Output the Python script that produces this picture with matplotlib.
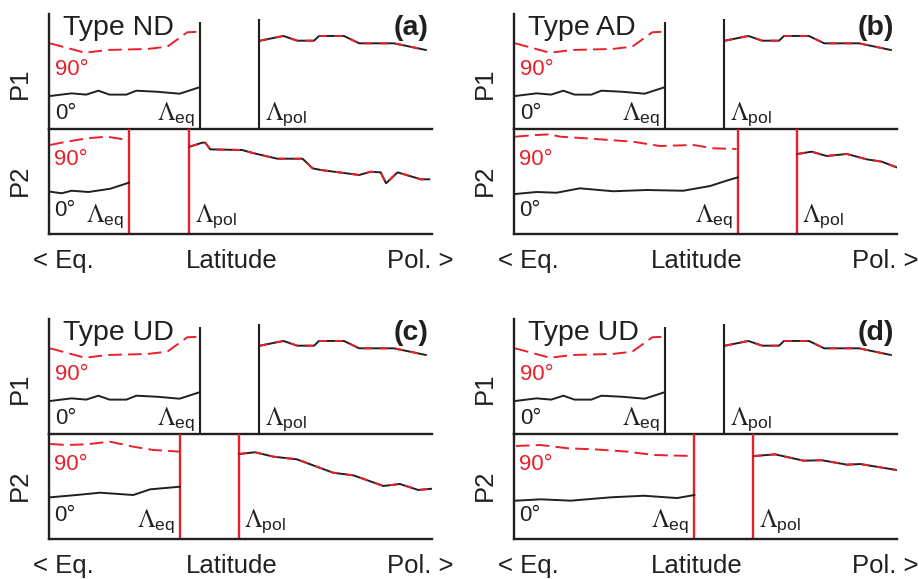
import matplotlib
matplotlib.use("Agg")
import matplotlib.pyplot as plt

plt.rcParams['font.family'] = ['Liberation Sans', 'DejaVu Sans']
plt.rcParams['mathtext.fontset'] = 'stix'

RED = '#e8202a'
BLK = '#231f20'

# ---------------- data (x: 0 = equator side, 100 = pole side; y: 0..100) ----------------
panel_letters = ['(a)', '(b)', '(c)', '(d)']
panel_types = ['Type ND', 'Type AD', 'Type UD', 'Type UD']

# P1 (identical in all panels)
p1_lam_eq = 39.5
p1_lam_pol = 54.8
p1_eq90_x = [0.3, 9.4, 15.2, 25.7, 30.9, 36.1, 39.3]
p1_eq90_y = [74.5, 66.3, 68.7, 69.6, 71.6, 84.1, 84.6]
p1_eq0_x = [0.3, 5.9, 9.7, 12.9, 15.8, 20.2, 22.8, 28.2, 34.1, 39.3]
p1_eq0_y = [28.7, 31.0, 29.9, 33.3, 29.9, 29.9, 33.3, 32.4, 30.7, 36.3]
p1_pol_x = [55.1, 61.2, 64.8, 69.2, 70.5, 77.0, 81.0, 90.1, 98.4]
p1_pol_y = [76.8, 80.9, 76.8, 76.8, 80.9, 80.9, 74.5, 74.5, 68.7]

# P2 per panel
p2_lam_eq = [20.9, 58.5, 34.2, 47.1]
p2_lam_pol = [36.6, 73.9, 49.6, 62.5]

p2_eq90_x = [
    [0.3, 4.6, 9.9, 15.1, 20.6],
    [0.3, 5.9, 9.4, 12.0, 18.9, 31.1, 38.1, 46.8, 52.0, 58.1],
    [0.3, 4.6, 9.8, 15.9, 22.0, 27.2, 34.0],
    [0.5, 7.0, 14.0, 20.9, 29.6, 36.5, 46.9],
]
p2_eq90_y = [
    [84.8, 87.9, 91.1, 92.7, 89.5],
    [92.7, 94.3, 94.9, 92.7, 91.1, 87.9, 83.8, 84.8, 81.6, 81.0],
    [90.5, 89.5, 90.2, 92.7, 87.9, 84.8, 83.2],
    [88.6, 89.5, 86.4, 85.4, 83.2, 80.0, 79.0],
]
p2_eq0_x = [
    [0.3, 3.3, 5.9, 10.3, 16.0, 20.9],
    [0.3, 5.9, 11.1, 17.2, 25.9, 34.6, 44.2, 51.2, 55.5, 58.5],
    [0.3, 7.2, 13.3, 22.0, 26.4, 34.2],
    [0.5, 7.0, 14.8, 25.3, 33.9, 42.6, 47.1],
]
p2_eq0_y = [
    [40.3, 38.8, 41.2, 40.0, 43.1, 48.9],
    [38.1, 40.0, 39.3, 43.5, 40.7, 41.9, 41.2, 45.7, 50.8, 54.0],
    [39.7, 41.9, 44.1, 41.9, 47.3, 49.8],
    [36.5, 37.8, 36.5, 39.7, 41.2, 39.0, 41.9],
]
p2_pol_x = [
    [36.7, 40.0, 40.8, 42.1, 50.4, 53.5, 59.6, 66.2, 68.8, 70.9, 81.0, 84.0, 86.6, 88.0, 91.0, 97.1, 99.3],
    [74.0, 77.7, 81.6, 86.9, 92.1, 96.0, 99.9],
    [49.7, 53.8, 58.6, 64.7, 74.2, 79.5, 87.3, 91.6, 96.4, 100.0],
    [62.6, 68.2, 75.6, 80.4, 86.9, 90.4, 99.9],
]
p2_pol_y = [
    [83.1, 87.0, 87.0, 80.6, 80.0, 76.9, 71.7, 71.7, 62.6, 61.0, 56.2, 59.3, 58.7, 48.3, 58.7, 52.1, 52.1],
    [76.2, 78.4, 74.3, 76.2, 71.1, 68.9, 63.5],
    [81.0, 82.6, 78.4, 75.9, 63.1, 60.6, 50.5, 52.4, 46.7, 47.9],
    [79.0, 80.6, 74.6, 75.0, 70.8, 71.4, 65.7],
]

# ---------------- layout ----------------
W, H = 919, 579
fig = plt.figure(figsize=(W / 100, H / 100), dpi=100)

col_left = [49, 514]
col_width = 383
row_top = [14, 319]
p1_h = 115
p2_h = 105

LW = 1.4
SLW = 1.7

LAM_EQ = r'$\Lambda_{\mathregular{eq}}$'
LAM_POL = r'$\Lambda_{\mathregular{pol}}$'


def px_axes(left, top, width, height):
    return fig.add_axes([left / W, (H - top - height) / H, width / W, height / H])


def style(ax):
    ax.set_xlim(0, 100)
    ax.set_ylim(0, 100)
    ax.set_xticks([])
    ax.set_yticks([])
    ax.patch.set_alpha(0)
    for s in ['top', 'right']:
        ax.spines[s].set_visible(False)
    for s in ['left', 'bottom']:
        ax.spines[s].set_linewidth(SLW)
        ax.spines[s].set_color(BLK)


for i in range(4):
    r, c = divmod(i, 2)
    left = col_left[c]
    top = row_top[r]
    ax1 = px_axes(left, top, col_width, p1_h)
    ax2 = px_axes(left, top + p1_h, col_width, p2_h)
    style(ax1)
    style(ax2)

    # ---- P1 ----
    ax1.vlines(p1_lam_eq, 0, 93, color=BLK, lw=SLW * 0.9, clip_on=False)
    ax1.vlines(p1_lam_pol, 0, 95.5, color=BLK, lw=SLW * 0.9, clip_on=False)
    ax1.plot(p1_eq90_x, p1_eq90_y, color=RED, lw=LW, dashes=(7, 3.2))
    ax1.plot(p1_eq0_x, p1_eq0_y, color=BLK, lw=LW)
    ax1.plot(p1_pol_x, p1_pol_y, color=BLK, lw=LW)
    ax1.plot(p1_pol_x, p1_pol_y, color=RED, lw=LW, dashes=(4, 4))

    ax1.text(3.7, 81.7, panel_types[i], fontsize=20.5, color=BLK, va='baseline', ha='left')
    ax1.text(99.2, 81.7, panel_letters[i], fontsize=20.5, fontweight='bold', color=BLK,
             va='baseline', ha='right')
    ax1.text(1.6, 47, '90°', fontsize=16, color=RED, va='baseline', ha='left')
    ax1.text(1.6, 8.6, '0°', fontsize=16, color=BLK, va='baseline', ha='left')
    ax1.text(p1_lam_eq - 1.3, 8.4, LAM_EQ, fontsize=18, color=BLK,
             va='baseline', ha='right')
    ax1.text(p1_lam_pol + 1.5, 8.4, LAM_POL, fontsize=18, color=BLK,
             va='baseline', ha='left')
    ax1.text(-7.6, 40, 'P1', fontsize=18.5, rotation=90, ha='center', va='center', color=BLK)

    # ---- P2 ----
    le = p2_lam_eq[i]
    lp = p2_lam_pol[i]
    ax2.vlines([le, lp], 0, 100, color=RED, lw=SLW)
    ax2.plot(p2_eq90_x[i], p2_eq90_y[i], color=RED, lw=LW, dashes=(7, 3.2))
    ax2.plot(p2_eq0_x[i], p2_eq0_y[i], color=BLK, lw=LW)
    ax2.plot(p2_pol_x[i], p2_pol_y[i], color=BLK, lw=LW)
    ax2.plot(p2_pol_x[i], p2_pol_y[i], color=RED, lw=LW, dashes=(4, 4))

    ax2.text(1.4, 66, '90°', fontsize=16, color=RED, va='baseline', ha='left')
    ax2.text(1.4, 17.5, '0°', fontsize=16, color=BLK, va='baseline', ha='left')
    ax2.text(le - 1.3, 11.5, LAM_EQ, fontsize=18, color=BLK,
             va='baseline', ha='right')
    ax2.text(lp + 1.4, 11.5, LAM_POL, fontsize=18, color=BLK,
             va='baseline', ha='left')
    ax2.text(-7.6, 51.4, 'P2', fontsize=18.5, rotation=90, ha='center', va='center', color=BLK)

    # ---- bottom labels ----
    ax2.text(-4.2, -32.4, '< Eq.', fontsize=18.5, color=BLK, va='baseline', ha='left', clip_on=False)
    ax2.text(47.6, -32.4, 'Latitude', fontsize=18.5, color=BLK, va='baseline', ha='center', clip_on=False)
    ax2.text(105.5, -32.4, 'Pol. >', fontsize=18.5, color=BLK, va='baseline', ha='right', clip_on=False)

fig.savefig('out.png', dpi=100)
